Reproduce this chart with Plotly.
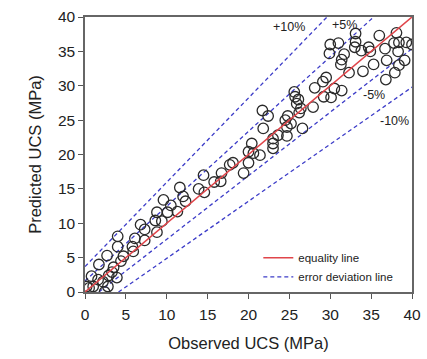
import plotly.graph_objects as go

# Observed vs predicted UCS (MPa)
obs = [0.2, 0.5, 1.0, 0.8, 1.6, 2.2, 2.4, 2.8, 2.9, 3.3, 3.9, 1.7, 3.5, 2.7, 4.4, 4.7,
       4.0, 4.0, 5.8, 5.9, 6.1, 7.3, 6.8, 7.3, 8.8, 8.6, 9.4, 8.8, 9.6, 10.5, 10.1, 11.3,
       11.6, 12.0, 12.3, 13.9, 14.6, 14.5, 15.8, 16.6, 16.7, 17.7, 18.1, 19.4, 20.0, 20.0,
       20.4, 20.6, 21.4, 23.0, 23.0, 23.0, 23.6, 24.7, 21.8, 24.7, 25.2, 24.5, 24.8, 21.7,
       22.4, 26.6, 26.2, 26.4, 25.9, 26.1, 25.7, 25.6, 27.9, 28.1, 29.2, 30.1, 30.5, 31.4,
       29.1, 29.5, 32.3, 31.3, 31.4, 31.7, 29.9, 30.0, 31.0, 33.0, 33.8, 34.7, 34.9, 33.1,
       33.1, 36.0, 38.1, 34.0, 35.3, 36.9, 36.7, 37.8, 38.4, 39.3, 40.0, 38.3, 39.1, 38.4,
       37.9, 36.8]
pred = [0.8, 0.6, 0.8, 2.3, 1.8, 1.5, 0.0, 0.8, 2.4, 2.9, 2.1, 4.0, 3.6, 5.3, 4.5, 5.2,
        6.6, 8.1, 6.6, 5.9, 7.8, 7.5, 9.8, 9.1, 8.7, 10.4, 10.3, 11.6, 13.4, 12.6, 11.6, 11.7,
        15.2, 13.9, 13.2, 15.0, 14.5, 17.0, 16.0, 16.1, 17.3, 18.5, 18.8, 17.3, 18.8, 20.4,
        21.6, 20.2, 19.9, 20.9, 21.6, 22.3, 22.8, 22.7, 23.8, 24.0, 24.5, 25.0, 25.6, 26.4,
        25.6, 23.8, 26.1, 26.7, 27.4, 28.0, 28.4, 29.1, 26.9, 29.7, 28.4, 28.3, 29.6, 29.3,
        30.6, 31.2, 31.9, 33.1, 33.8, 34.6, 34.7, 36.0, 36.2, 35.6, 35.1, 35.6, 35.0, 36.4,
        37.6, 37.3, 37.7, 32.1, 33.1, 33.7, 35.4, 36.2, 36.3, 36.3, 36.0, 35.0, 33.7, 33.0,
        31.9, 30.9]

# Reference lines (endpoints)
eq_x, eq_y = [0, 40], [0, 40]
up10_x, up10_y = [0, 29.6], [3.7, 40]
up5_x, up5_y = [0, 35.3], [1.6, 40]
lo5_x, lo5_y = [1.7, 40], [0, 35.4]
lo10_x, lo10_y = [4.1, 40], [0, 29.8]

band_labels = ["+10%", "+5%", "-5%", "-10%"]
band_lx = [25.0, 31.7, 35.3, 37.8]
band_ly = [38.5, 38.8, 28.6, 24.9]

ticks = [0, 5, 10, 15, 20, 25, 30, 35, 40]

RED = "#e0454a"
BLUE = "#3c3cc8"
FONT = "Liberation Sans, Arial, sans-serif"

fig = go.Figure()
dash_style = dict(color=BLUE, width=1.3, dash="4px,3px")
for i, (lx, ly) in enumerate([(up10_x, up10_y), (up5_x, up5_y), (lo5_x, lo5_y), (lo10_x, lo10_y)]):
    fig.add_trace(go.Scatter(x=lx, y=ly, mode="lines", line=dash_style,
                             name="error deviation line", showlegend=(i == 0),
                             legendrank=2))
fig.add_trace(go.Scatter(x=obs, y=pred, mode="markers", showlegend=False,
                         marker=dict(symbol="circle-open", size=10.5, color="#2a2a2a",
                                     line=dict(width=1.3, color="#2a2a2a"))))
fig.add_trace(go.Scatter(x=eq_x, y=eq_y, mode="lines", line=dict(color=RED, width=1.5),
                         name="equality line", legendrank=1))

for t, x, y in zip(band_labels, band_lx, band_ly):
    fig.add_annotation(x=x, y=y, text=t, showarrow=False,
                       font=dict(size=12.5, color="#222", family=FONT))

axis_common = dict(range=[0, 40], tickvals=ticks, ticks="outside", ticklen=5, tickwidth=1.2,
                   tickcolor="#555", showline=True, linecolor="#666", linewidth=1.5,
                   mirror=True, showgrid=False, zeroline=False, automargin=False,
                   tickfont=dict(size=15.5, color="#222", family=FONT))

fig.update_layout(
    width=427, height=359,
    margin=dict(l=85, r=15, t=16.5, b=66.5),
    paper_bgcolor="white", plot_bgcolor="white",
    font=dict(family=FONT, color="#222"),
    xaxis=dict(title=dict(text="Observed UCS (MPa)", font=dict(size=16.5), standoff=15),
               ticklabelstandoff=3, **axis_common),
    yaxis=dict(title=dict(text="Predicted UCS (MPa)", font=dict(size=16.5), standoff=12),
               **axis_common),
    legend=dict(x=0.53, y=0.177, xanchor="left", yanchor="top", bgcolor="rgba(0,0,0,0)",
                font=dict(size=11.5, color="#222", family=FONT), tracegroupgap=0,
                itemwidth=30),
)

fig.write_html("out.html")
